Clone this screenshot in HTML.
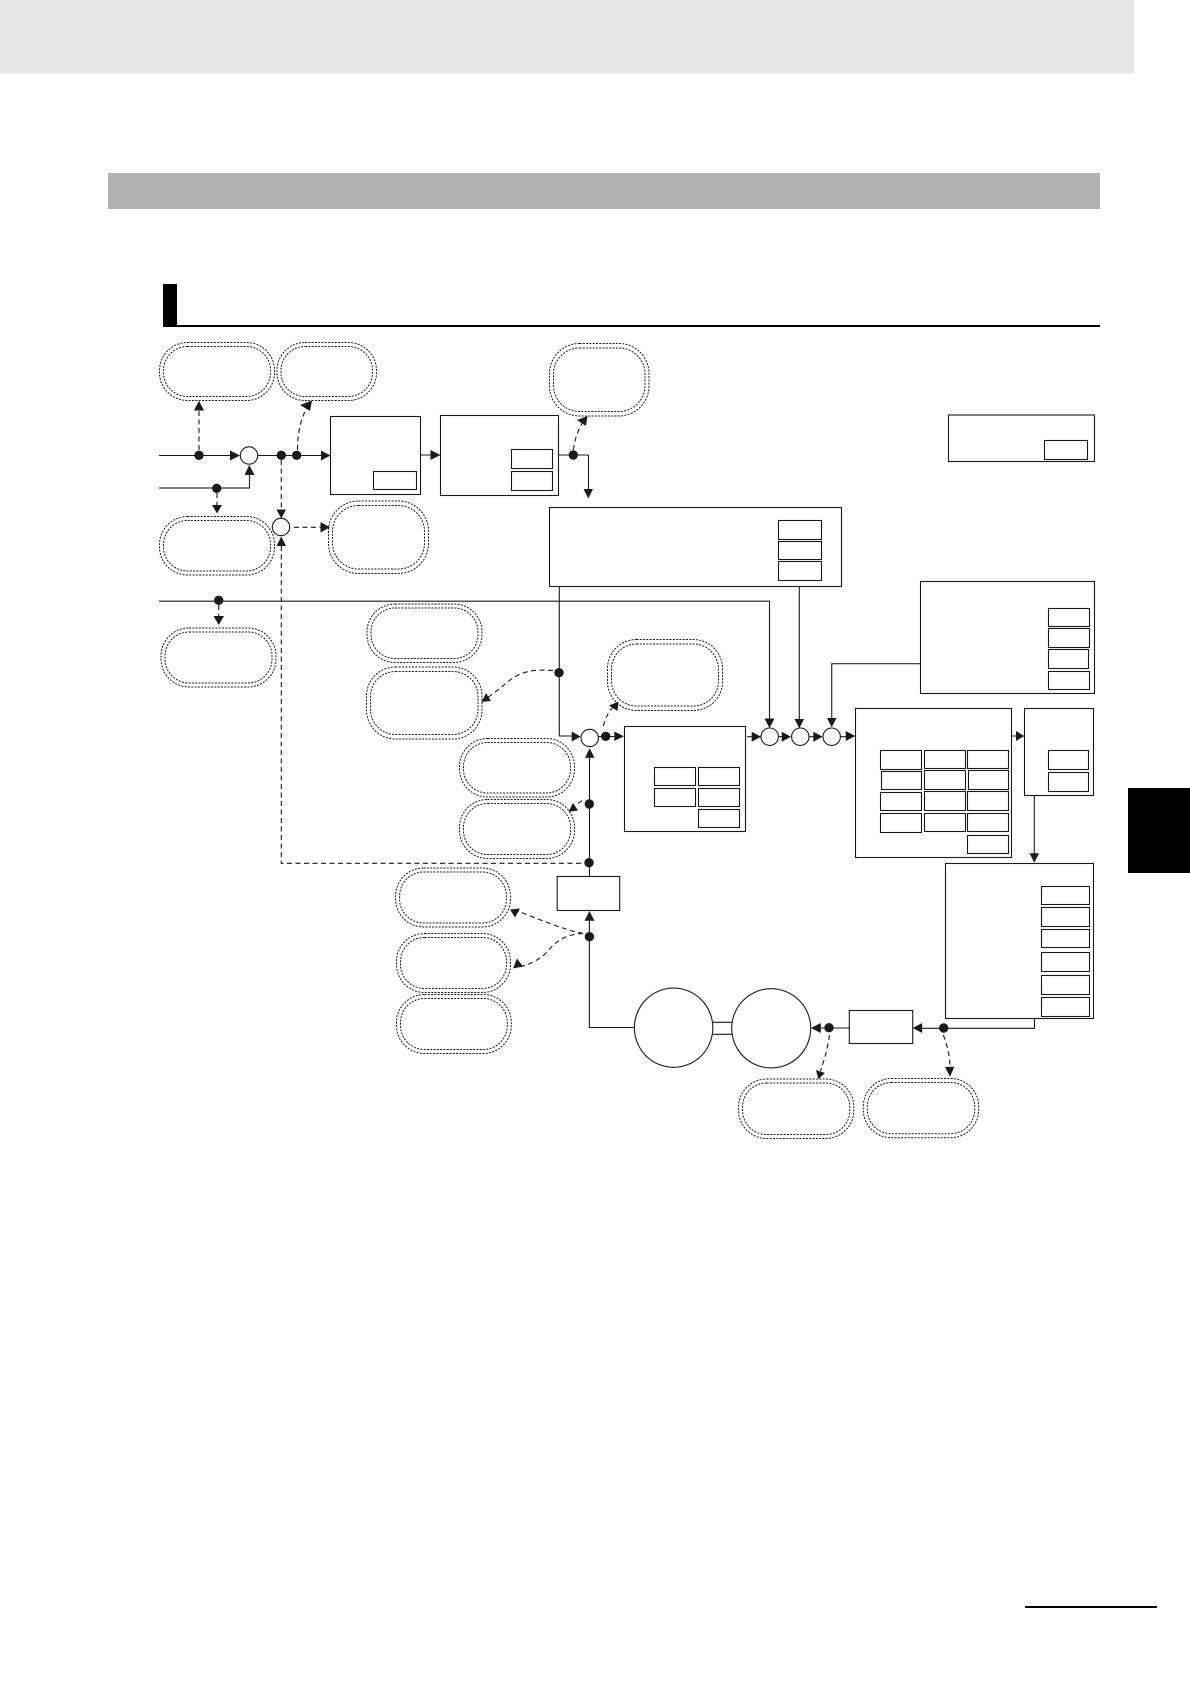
<!DOCTYPE html>
<html><head><meta charset="utf-8"><style>
html,body{margin:0;padding:0;background:#fff}
svg{display:block}
.b{fill:#fff;stroke:#1a1a1a;stroke-width:1.1}
.l{fill:none;stroke:#1a1a1a;stroke-width:1.1}
.g{fill:none;stroke:#333;stroke-width:1.2}
.d{fill:none;stroke:#1a1a1a;stroke-width:1.1;stroke-dasharray:5 3.5}
.p{fill:none;stroke:#1a1a1a;stroke-width:1;stroke-dasharray:2 1.3}
.a{fill:#1a1a1a}
</style></head><body>
<svg width="1190" height="1684" viewBox="0 0 1190 1684" xmlns="http://www.w3.org/2000/svg">
<rect x="0" y="0" width="1134" height="73.5" fill="#e6e6e6"/>
<rect x="108" y="173" width="992" height="36" fill="#b2b2b2"/>
<rect x="163" y="284" width="14" height="43" fill="#000"/>
<rect x="163" y="325" width="937" height="2" fill="#000"/>
<rect x="1128" y="788" width="62" height="85" fill="#000"/>
<rect x="1025" y="1606" width="132" height="2" fill="#000"/>

<!-- pills -->
<g>
<rect class="p" x="159.5" y="342.5" width="115" height="58" rx="28"/><rect class="p" x="163.5" y="346.5" width="107" height="50" rx="24"/>
<rect class="p" x="277" y="342.5" width="99.5" height="58" rx="28"/><rect class="p" x="281" y="346.5" width="91.5" height="50" rx="24"/>
<rect class="p" x="549.5" y="343.5" width="99.5" height="72.5" rx="30"/><rect class="p" x="553.5" y="348" width="91.5" height="63.5" rx="26"/>
<rect class="p" x="159.5" y="516.5" width="115" height="58.5" rx="28"/><rect class="p" x="163.5" y="520.5" width="107" height="50.5" rx="24"/>
<rect class="p" x="328.5" y="501" width="100" height="72.5" rx="30"/><rect class="p" x="332.5" y="505.5" width="92" height="63.5" rx="26"/>
<rect class="p" x="161" y="628" width="115" height="59" rx="28"/><rect class="p" x="165" y="632" width="107" height="51" rx="24"/>
<rect class="p" x="367" y="604" width="115" height="58.5" rx="28"/><rect class="p" x="371" y="608" width="107" height="50.5" rx="24"/>
<rect class="p" x="366.5" y="667" width="115.5" height="72" rx="29"/><rect class="p" x="370.5" y="671.5" width="107.5" height="63" rx="25"/>
<rect class="p" x="607.5" y="639.5" width="115" height="71" rx="29"/><rect class="p" x="611.5" y="644" width="107" height="62" rx="25"/>
<rect class="p" x="459.5" y="738.5" width="115" height="58.5" rx="28"/><rect class="p" x="463.5" y="742.5" width="107" height="50.5" rx="24"/>
<rect class="p" x="459.5" y="799.5" width="115" height="59" rx="28"/><rect class="p" x="463.5" y="803.5" width="107" height="51" rx="24"/>
<rect class="p" x="395.6" y="868" width="114.8" height="59" rx="28"/><rect class="p" x="399.6" y="872" width="106.8" height="51" rx="24"/>
<rect class="p" x="396.5" y="933.5" width="114" height="59" rx="28"/><rect class="p" x="400.5" y="937.5" width="106" height="51" rx="24"/>
<rect class="p" x="396.5" y="994.5" width="114.8" height="59" rx="28"/><rect class="p" x="400.5" y="998.5" width="106.8" height="51" rx="24"/>
<rect class="p" x="738.6" y="1079" width="115.2" height="59.5" rx="28"/><rect class="p" x="742.6" y="1083" width="107.2" height="51.5" rx="24"/>
<rect class="p" x="863.3" y="1078.5" width="115.4" height="59.2" rx="28"/><rect class="p" x="867.3" y="1082.5" width="107.4" height="51.2" rx="24"/>
</g>

<!-- solid connectors -->
<path class="l" d="M159 455.5H232M258 455.5H322M420 455H432M558 455H588.5V490"/>
<path class="g" d="M159 488H249.5V475"/>
<path class="l" d="M159 601.2H769.5V720"/>
<path class="l" d="M559.3 586V736H572"/>
<path class="l" d="M799.3 586V720"/>
<path class="g" d="M920 663.7H831.7V719"/>
<path class="l" d="M589.5 757V876M589.4 920V1027.5H634.5"/>
<path class="l" d="M747 736.7H752M779 736.7H783M809 736.7H814M841 736.7H846M1012 736H1017"/>
<path class="l" d="M598 736.5H615"/>
<path class="l" d="M1034.3 795.7V854"/>
<path class="l" d="M820 1028H849.5M922 1028.3H1034.5V1018"/>
<path class="l" d="M712.9 1022.3H731.7M712.9 1034.3H731.7"/>

<!-- dashed connectors -->
<path class="d" d="M199 450V410"/>
<path class="d" d="M297.5 450C297.5 432 301 418 307 408"/>
<path class="d" d="M573.3 450C575 438 578 430 583 422"/>
<path class="d" d="M217 493V506"/>
<path class="d" d="M281.3 460V510M281.3 546V863.3H585"/>
<path class="d" d="M294 527.3H321"/>
<path class="d" d="M218.7 605V617"/>
<path class="d" d="M553 670.5C525 668 515 676 505 684C499 690 490 695 488 698"/>
<path class="d" d="M603.3 726C606 716 610 710 614 706"/>
<path class="d" d="M582 800.7L574 806"/>
<path class="d" d="M583 933.5C565 930 540 920 518 911"/>
<path class="d" d="M583 933.5C559 935 554 945 544 955C534 963 524 966 519 967"/>
<path class="d" d="M829.5 1035C828 1048 824 1060 820.5 1071"/>
<path class="d" d="M943.3 1035C947 1045 950 1055 950 1068"/>

<!-- boxes -->
<rect class="b" x="330.5" y="416.5" width="90" height="78"/><rect class="b" x="373.5" y="471.5" width="43" height="18"/>
<rect class="b" x="440.5" y="415.5" width="118" height="80"/><rect class="b" x="511.5" y="449.5" width="41" height="19"/><rect class="b" x="511.5" y="471.5" width="41" height="19"/>
<rect class="b" x="948.5" y="415" width="146" height="46.5"/><rect class="b" x="1044.5" y="440.5" width="43" height="19"/>
<rect class="b" x="549.5" y="507.5" width="292" height="79"/>
<rect class="b" x="778.5" y="520.5" width="43" height="19"/><rect class="b" x="778.5" y="541.5" width="43" height="18"/><rect class="b" x="778.5" y="561.5" width="43" height="19"/>
<rect class="b" x="920.5" y="581.5" width="174" height="112"/>
<rect class="b" x="1048.5" y="608.5" width="41" height="18"/><rect class="b" x="1048.5" y="628.5" width="41" height="19"/><rect class="b" x="1048.5" y="649.5" width="40" height="19"/><rect class="b" x="1048.5" y="671.5" width="41" height="18"/>
<rect class="b" x="624.5" y="726.5" width="121" height="105"/>
<rect class="b" x="654.5" y="767.5" width="41" height="18"/><rect class="b" x="698.5" y="767.5" width="41" height="18"/><rect class="b" x="654.5" y="788.5" width="41" height="18"/><rect class="b" x="698.5" y="788.5" width="41" height="18"/><rect class="b" x="698.5" y="809.5" width="41" height="18"/>
<rect class="b" x="855.5" y="708.5" width="156" height="149"/>
<rect class="b" x="880.5" y="750.5" width="41" height="19"/><rect class="b" x="881.5" y="771.5" width="40" height="18"/><rect class="b" x="880.5" y="792.5" width="41" height="18"/><rect class="b" x="880.5" y="813.5" width="41" height="19"/>
<rect class="b" x="924.5" y="750.5" width="41" height="18"/><rect class="b" x="924.5" y="770.5" width="41" height="19"/><rect class="b" x="924.5" y="791.5" width="41" height="19"/><rect class="b" x="924.5" y="813.5" width="41" height="18"/>
<rect class="b" x="967.5" y="750.5" width="41" height="18"/><rect class="b" x="968.5" y="770.5" width="40" height="19"/><rect class="b" x="967.5" y="791.5" width="41" height="19"/><rect class="b" x="967.5" y="813.5" width="41" height="18"/><rect class="b" x="967.5" y="835.5" width="41" height="18"/>
<rect class="b" x="1024.5" y="708.5" width="69" height="87"/>
<rect class="b" x="1048.5" y="750.5" width="40" height="19"/><rect class="b" x="1048.5" y="772.5" width="40" height="19"/>
<rect class="b" x="945.5" y="863.5" width="148" height="155"/>
<rect class="b" x="1041.5" y="886.5" width="48" height="18"/><rect class="b" x="1041.5" y="907.5" width="48" height="19"/><rect class="b" x="1041.5" y="929.5" width="48" height="18"/><rect class="b" x="1041.5" y="952.5" width="48" height="19"/><rect class="b" x="1041.5" y="975.5" width="48" height="19"/><rect class="b" x="1041.5" y="997.5" width="48" height="19"/>
<rect class="b" x="557.2" y="876.5" width="62.5" height="34"/>
<rect class="b" x="849.3" y="1010.5" width="63.4" height="33"/>

<!-- circles -->
<g class="b">
<circle cx="249" cy="455.5" r="8.7"/><circle cx="281" cy="527" r="8.7"/>
<circle cx="589.7" cy="738" r="8.7"/>
<circle cx="769.7" cy="736.7" r="8.7"/><circle cx="800.3" cy="736.7" r="8.7"/><circle cx="831.7" cy="736.7" r="8.7"/>
<ellipse cx="673.6" cy="1027.7" rx="39.2" ry="39.6"/><ellipse cx="771.2" cy="1028.3" rx="39.5" ry="39.6"/>
</g>

<!-- dots -->
<g class="a">
<circle cx="199" cy="455.3" r="4.7"/><circle cx="281.3" cy="455.3" r="4.7"/><circle cx="296.7" cy="455.3" r="4.7"/>
<circle cx="573.3" cy="455" r="4.7"/><circle cx="216.7" cy="488.3" r="4.7"/><circle cx="218.7" cy="600.3" r="4.7"/>
<circle cx="559" cy="672.7" r="4.7"/><circle cx="605.7" cy="736.3" r="4.7"/><circle cx="589.3" cy="804" r="4.7"/>
<circle cx="589" cy="862.7" r="4.7"/><circle cx="589.4" cy="936.7" r="4.7"/><circle cx="829" cy="1027.7" r="4.7"/><circle cx="943.7" cy="1028" r="4.7"/>
</g>

<!-- arrowheads -->
<g class="a">
<polygon points="199,400.7 194,410.5 204,410.5"/>
<polygon points="240,455.5 230,450.5 230,460.5"/>
<polygon points="249.3,465 244.5,475 254.5,475"/>
<polygon points="330.5,455.5 321,450.5 321,460.5"/>
<polygon points="440.5,455 430.5,450 430.5,460"/>
<polygon points="588.3,498.5 583.5,489 593,489"/>
<polygon points="312,400.5 300,405 310,411"/>
<polygon points="587.5,416 577,420 586,426"/>
<polygon points="217,513.5 212,505 222,505"/>
<polygon points="281.3,518.5 276.5,509.5 286,509.5"/>
<polygon points="281.3,536.5 276.5,546 286,546"/>
<polygon points="330,527.3 320.5,522 320.5,532.5"/>
<polygon points="218.7,625 213.5,616 224,616"/>
<polygon points="769.5,728 764.5,718.5 774.5,718.5"/>
<polygon points="799.3,728.3 794.5,719 804,719"/>
<polygon points="831.7,727.3 827,718 836.5,718"/>
<polygon points="481.5,702 486,693 491,701"/>
<polygon points="580.7,736.5 571.7,731.5 571.7,741.5"/>
<polygon points="624,736.3 614.3,731.5 614.3,741"/>
<polygon points="618.5,701.5 609,705.5 617.5,711"/>
<polygon points="589.7,748.3 585,757.7 594.5,757.7"/>
<polygon points="568.5,811.7 573,803 578,810.5"/>
<polygon points="761,736.7 751.7,731.7 751.7,741.7"/>
<polygon points="791,736.7 781.7,731.7 781.7,741.7"/>
<polygon points="822.7,736.7 813.3,731.7 813.3,741.7"/>
<polygon points="855.3,736 845.7,731 845.7,741"/>
<polygon points="1024.3,736 1016,731 1016,741"/>
<polygon points="1034.3,862.7 1029.5,853.3 1039,853.3"/>
<polygon points="589.4,911 584.5,920.7 594.5,920.7"/>
<polygon points="510,909.5 520,908.5 515,917.5"/>
<polygon points="513,968.5 517,958.5 523,966.5"/>
<polygon points="811,1028 820.8,1023 820.8,1033"/>
<polygon points="912.7,1028 922.2,1023 922.2,1033"/>
<polygon points="818.3,1079.3 816,1070 825,1073"/>
<polygon points="950,1076.7 945,1067 954.3,1066.7"/>
</g>
</svg>
</body></html>
